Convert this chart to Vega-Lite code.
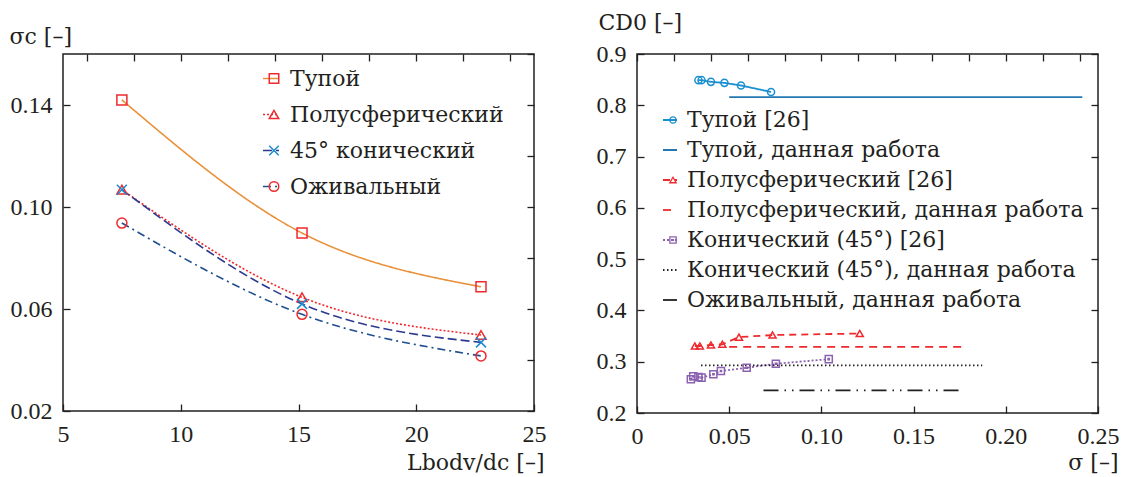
{
  "$schema": "https://vega.github.io/schema/vega-lite/v6.json",
  "padding": {"left": 8, "top": 10, "right": 5, "bottom": 0},
  "datasets": {
    "left": [
      {"series": "Тупой", "x": 7.5, "y": 0.142},
      {"series": "Тупой", "x": 15.15, "y": 0.0898},
      {"series": "Тупой", "x": 22.75, "y": 0.0687},
      {"series": "Полусферический", "x": 7.5, "y": 0.1068},
      {"series": "Полусферический", "x": 15.15, "y": 0.0646},
      {"series": "Полусферический", "x": 22.75, "y": 0.0498},
      {"series": "45° конический", "x": 7.5, "y": 0.1068},
      {"series": "45° конический", "x": 15.15, "y": 0.062},
      {"series": "45° конический", "x": 22.75, "y": 0.0469},
      {"series": "Оживальный", "x": 7.5, "y": 0.0937},
      {"series": "Оживальный", "x": 15.15, "y": 0.0579},
      {"series": "Оживальный", "x": 22.75, "y": 0.0416}
    ],
    "right": [
      {"series": "Тупой [26]", "x": 0.0333, "y": 0.849},
      {"series": "Тупой [26]", "x": 0.035, "y": 0.849},
      {"series": "Тупой [26]", "x": 0.0401, "y": 0.8457},
      {"series": "Тупой [26]", "x": 0.0474, "y": 0.8437},
      {"series": "Тупой [26]", "x": 0.0564, "y": 0.8386},
      {"series": "Тупой [26]", "x": 0.0727, "y": 0.826},
      {"series": "Тупой, данная работа", "x": 0.05, "y": 0.816},
      {"series": "Тупой, данная работа", "x": 0.2415, "y": 0.816},
      {"series": "Полусферический [26]", "x": 0.0314, "y": 0.3306},
      {"series": "Полусферический [26]", "x": 0.0341, "y": 0.3306},
      {"series": "Полусферический [26]", "x": 0.0401, "y": 0.3326},
      {"series": "Полусферический [26]", "x": 0.0463, "y": 0.334},
      {"series": "Полусферический [26]", "x": 0.0553, "y": 0.348},
      {"series": "Полусферический [26]", "x": 0.0735, "y": 0.352},
      {"series": "Полусферический [26]", "x": 0.1208, "y": 0.355},
      {"series": "Полусферический, данная работа", "x": 0.05, "y": 0.329},
      {"series": "Полусферический, данная работа", "x": 0.177, "y": 0.329},
      {"series": "Конический (45°)  [26]", "x": 0.0292, "y": 0.2657},
      {"series": "Конический (45°)  [26]", "x": 0.0305, "y": 0.2715},
      {"series": "Конический (45°)  [26]", "x": 0.0333, "y": 0.27},
      {"series": "Конический (45°)  [26]", "x": 0.035, "y": 0.269},
      {"series": "Конический (45°)  [26]", "x": 0.0414, "y": 0.2754},
      {"series": "Конический (45°)  [26]", "x": 0.0455, "y": 0.2819},
      {"series": "Конический (45°)  [26]", "x": 0.0595, "y": 0.2883},
      {"series": "Конический (45°)  [26]", "x": 0.0753, "y": 0.296},
      {"series": "Конический (45°)  [26]", "x": 0.104, "y": 0.305},
      {"series": "Конический (45°), данная работа", "x": 0.0347, "y": 0.293},
      {"series": "Конический (45°), данная работа", "x": 0.1872, "y": 0.293},
      {"series": "Оживальный, данная работа", "x": 0.0686, "y": 0.244},
      {"series": "Оживальный, данная работа", "x": 0.175, "y": 0.244}
    ]
  },
  "spacing": 48,
  "hconcat": [
    {
      "width": 471,
      "height": 357,
      "data": {"name": "left"},
      "layer": [
        {
          "mark": {"type": "line", "interpolate": "monotone", "strokeWidth": 1.6},
          "encoding": {
            "x": {"field": "x", "type": "quantitative", "scale": {"domain": [5, 25], "nice": false, "zero": false},
              "axis": {"orient": "bottom", "values": [5, 10, 15, 20, 25], "title": "Lbodv/dc [–]", "titleAlign": "right", "titleX": 481, "titleY": 58, "titleBaseline": "alphabetic"}},
            "y": {"field": "y", "type": "quantitative", "scale": {"domain": [0.02, 0.16], "nice": false, "zero": false},
              "axis": {"orient": "left", "values": [0.02, 0.06, 0.1, 0.14], "format": ".2f", "title": "σc [–]", "titleAngle": 0, "titleAlign": "left", "titleX": -54, "titleY": -11, "titleBaseline": "alphabetic"}},
            "stroke": {"field": "series", "type": "nominal",
              "scale": {"domain": ["Тупой", "Полусферический", "45° конический", "Оживальный"], "range": ["#E8913A", "#EE2A2E", "#2B3990", "#1F4F8F"]},
              "legend": {"orient": "none", "legendX": 197, "legendY": 13.5, "title": null, "symbolType": "stroke", "symbolSize": 256, "symbolStrokeWidth": 1.6, "labelFontSize": 22, "rowPadding": 14, "labelOffset": 8, "labelLimit": 0}},
            "strokeDash": {"field": "series", "type": "nominal",
              "scale": {"domain": ["Тупой", "Полусферический", "45° конический", "Оживальный"], "range": [[1, 0], [2, 2], [9, 4], [8, 4, 2, 4]]},
              "legend": {"orient": "none", "legendX": 197, "legendY": 13.5, "title": null, "symbolType": "stroke", "symbolSize": 256, "symbolStrokeWidth": 1.6, "labelFontSize": 22, "rowPadding": 14, "labelOffset": 8, "labelLimit": 0}}
          }
        },
        {
          "mark": {"type": "point", "filled": false, "strokeWidth": 1.5, "size": 100, "opacity": 1},
          "encoding": {
            "x": {"field": "x", "type": "quantitative", "axis": {"orient": "top", "labels": false, "title": null}},
            "y": {"field": "y", "type": "quantitative", "axis": {"orient": "right", "labels": false, "title": null}},
            "color": {"field": "series", "type": "nominal",
              "scale": {"domain": ["Тупой", "Полусферический", "45° конический", "Оживальный", " "], "range": ["#EE2A2E", "#EE2A2E", "#1C8AD0", "#EE2A2E", "transparent"]},
              "legend": {"orient": "none", "legendX": 200, "legendY": 13.5, "title": null, "symbolSize": 90, "symbolStrokeWidth": 1.5, "labelFontSize": 22, "rowPadding": 14, "labelOffset": 8, "labelLimit": 0, "labelExpr": "''"}},
            "shape": {"field": "series", "type": "nominal",
              "scale": {"domain": ["Тупой", "Полусферический", "45° конический", "Оживальный", " "], "range": ["square", "triangle-up", "M-1,-1L1,1M-1,1L1,-1", "circle", "circle"]},
              "legend": {"orient": "none", "legendX": 200, "legendY": 13.5, "title": null, "symbolSize": 90, "symbolStrokeWidth": 1.5, "labelFontSize": 22, "rowPadding": 14, "labelOffset": 8, "labelLimit": 0, "labelExpr": "''"}}
          }
        }
      ],
      "resolve": {"axis": {"x": "independent", "y": "independent"}}
    },
    {
      "width": 461,
      "height": 359,
      "data": {"name": "right"},
      "layer": [
        {
          "mark": {"type": "line", "strokeWidth": 1.8},
          "encoding": {
            "x": {"field": "x", "type": "quantitative", "scale": {"domain": [0, 0.25], "nice": false, "zero": false},
              "axis": {"orient": "bottom", "values": [0, 0.05, 0.1, 0.15, 0.2, 0.25], "labelExpr": "datum.value == 0 ? '0' : format(datum.value, '.2f')", "title": "σ [–]", "titleAlign": "right", "titleX": 481, "titleY": 56, "titleBaseline": "alphabetic"}},
            "y": {"field": "y", "type": "quantitative", "scale": {"domain": [0.2, 0.9], "nice": false, "zero": false},
              "axis": {"orient": "left", "values": [0.2, 0.3, 0.4, 0.5, 0.6, 0.7, 0.8, 0.9], "format": ".1f", "title": "CD0 [–]", "titleAngle": 0, "titleAlign": "left", "titleX": -39, "titleY": -25, "titleBaseline": "alphabetic"}},
            "stroke": {"field": "series", "type": "nominal",
              "scale": {"domain": ["Тупой [26]", "Тупой, данная работа", "Полусферический [26]", "Полусферический, данная работа", "Конический (45°)  [26]", "Конический (45°), данная работа", "Оживальный, данная работа"],
                "range": ["#1A8FD0", "#2477B3", "#EE2A2E", "#EE2A2E", "#8B62B0", "#231F20", "#231F20"]},
              "legend": {"orient": "none", "legendX": 22, "legendY": 55, "title": null, "symbolType": "stroke", "symbolSize": 196, "symbolStrokeWidth": 1.8, "labelFontSize": 22, "rowPadding": 8, "labelOffset": 6, "labelLimit": 0}},
            "strokeDash": {"field": "series", "type": "nominal",
              "scale": {"domain": ["Тупой [26]", "Тупой, данная работа", "Полусферический [26]", "Полусферический, данная работа", "Конический (45°)  [26]", "Конический (45°), данная работа", "Оживальный, данная работа"],
                "range": [[1, 0], [1, 0], [7, 5], [8, 6], [2, 2], [1.5, 2.5], [15, 6, 1.5, 6, 1.5, 6]]},
              "legend": {"orient": "none", "legendX": 22, "legendY": 55, "title": null, "symbolType": "stroke", "symbolSize": 196, "symbolStrokeWidth": 1.8, "labelFontSize": 22, "rowPadding": 8, "labelOffset": 6, "labelLimit": 0}},
            "strokeWidth": {"field": "series", "type": "ordinal",
              "scale": {"domain": ["Тупой [26]", "Тупой, данная работа", "Полусферический [26]", "Полусферический, данная работа", "Конический (45°)  [26]", "Конический (45°), данная работа", "Оживальный, данная работа"],
                "range": [1.8, 1.8, 1.8, 2, 1.5, 1.6, 2.5]},
              "legend": null}
          }
        },
        {
          "transform": [{"filter": "indexof(datum.series, '[26]') >= 0"}],
          "mark": {"type": "point", "filled": false, "strokeWidth": 1.5, "size": 50, "opacity": 1},
          "encoding": {
            "x": {"field": "x", "type": "quantitative", "axis": {"orient": "top", "labels": false, "title": null}},
            "y": {"field": "y", "type": "quantitative", "axis": {"orient": "right", "labels": false, "title": null}},
            "color": {"field": "series", "type": "nominal",
              "scale": {"domain": ["Тупой [26]", "Тупой, данная работа", "Полусферический [26]", "Полусферический, данная работа", "Конический (45°)  [26]", "Конический (45°), данная работа", "Оживальный, данная работа", " "],
                "range": ["#1A8FD0", "transparent", "#EE2A2E", "transparent", "#8B62B0", "transparent", "transparent", "transparent"]},
              "legend": {"orient": "none", "legendX": 25, "legendY": 55, "title": null, "symbolSize": 40, "symbolStrokeWidth": 1.3, "labelFontSize": 22, "rowPadding": 8, "labelOffset": 6, "labelLimit": 0, "labelExpr": "''"}},
            "shape": {"field": "series", "type": "nominal",
              "scale": {"domain": ["Тупой [26]", "Тупой, данная работа", "Полусферический [26]", "Полусферический, данная работа", "Конический (45°)  [26]", "Конический (45°), данная работа", "Оживальный, данная работа", " "],
                "range": ["circle", "circle", "triangle-up", "circle", "M-1,-1H1V1H-1ZM-0.15,-0.15H0.15V0.15H-0.15Z", "circle", "circle", "circle"]},
              "legend": {"orient": "none", "legendX": 25, "legendY": 55, "title": null, "symbolSize": 40, "symbolStrokeWidth": 1.3, "labelFontSize": 22, "rowPadding": 8, "labelOffset": 6, "labelLimit": 0, "labelExpr": "''"}}
          }
        }
      ],
      "resolve": {"axis": {"x": "independent", "y": "independent"}}
    }
  ],
  "resolve": {
    "scale": {"color": "independent", "stroke": "independent", "strokeDash": "independent", "shape": "independent", "strokeWidth": "independent"},
    "legend": {"color": "independent", "stroke": "independent", "strokeDash": "independent", "shape": "independent"}
  },
  "config": {
    "background": "white",
    "font": "Liberation Serif",
    "view": {"stroke": "#231F20", "strokeWidth": 1.5},
    "axis": {
      "labelFont": "Liberation Serif", "labelFontSize": 24, "labelColor": "#231F20",
      "titleFont": "DejaVu Serif", "titleFontSize": 22, "titleFontWeight": "normal", "titleColor": "#231F20",
      "grid": false, "domain": false, "tickColor": "#231F20", "tickSize": -7, "tickWidth": 1.3,
      "labelPadding": 18, "labelFlush": false, "labelOverlap": false
    },
    "legend": {"labelFont": "DejaVu Serif", "labelColor": "#231F20"}
  }
}
